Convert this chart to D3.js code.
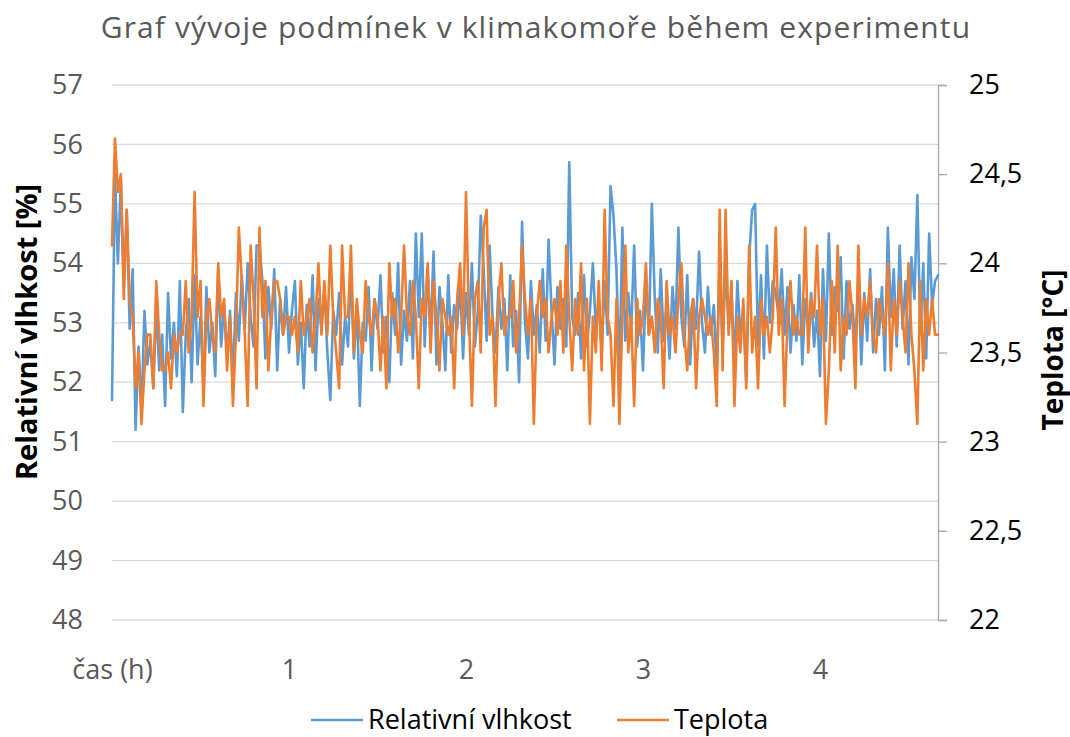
<!DOCTYPE html>
<html>
<head>
<meta charset="utf-8">
<script src="https://cdnjs.cloudflare.com/ajax/libs/d3/7.8.5/d3.min.js"></script>
<style>
  body { margin: 0; background: #fff; }
  svg { display: block; font-family: "Open Sans", sans-serif; }
</style>
</head>
<body>
<div id="chart"></div>
<script>
// popisky osy x (kategorie po minutách, popisek každých 60 bodů)
const xLabels = ["čas (h)", "1", "2", "3", "4"];
const xLabelIdx = [0, 60, 120, 180, 240];

const humTicks = [48, 49, 50, 51, 52, 53, 54, 55, 56, 57];
const tempTicks = [22, 22.5, 23, 23.5, 24, 24.5, 25];

// relativní vlhkost [%]
const vlhkost = [
  51.7, 55.5, 54.0, 55.4, 53.6, 54.9, 52.9, 53.9, 51.2, 52.6, 51.5, 53.2, 52.3, 52.7, 51.9, 53.3, 52.2, 52.8, 51.6, 53.5,
  52.4, 53.0, 52.1, 53.7, 51.5, 52.8, 53.4, 52.0, 53.8, 52.3, 53.1, 51.9, 53.6, 52.5, 53.0, 52.1, 53.9, 52.6, 53.3, 52.4,
  53.2, 52.0, 53.5, 52.7, 53.8, 52.9, 54.0, 53.1, 52.6, 54.3, 54.3, 53.7, 52.4, 53.6, 52.9, 53.9, 52.2, 53.4, 52.8, 53.6,
  52.5, 53.2, 53.7, 52.3, 53.0, 51.9, 53.3, 52.6, 53.8, 52.2, 53.4, 52.9, 53.6, 52.5, 51.7, 53.2, 52.8, 53.5, 52.3, 53.1,
  52.6, 53.9, 52.4, 53.3, 51.6, 53.0, 52.7, 53.6, 52.2, 53.4, 52.9, 53.8, 52.5, 53.1, 52.0, 53.5, 52.8, 54.0, 52.3, 53.2,
  52.7, 53.7, 52.4, 54.5, 53.1, 54.5, 52.6, 53.9, 52.8, 54.2, 52.3, 53.6, 53.0, 52.2, 53.8, 52.5, 53.3, 52.9, 53.7, 52.4,
  53.5, 52.8, 54.0, 52.6, 53.2, 54.8, 53.9, 52.7, 54.3, 53.1, 52.5, 53.6, 52.9, 53.4, 52.2, 53.8, 52.6, 53.2, 52.0, 54.7,
  53.0, 52.4, 53.7, 52.8, 53.3, 52.5, 53.9, 52.7, 54.4, 53.2, 52.3, 53.6, 52.9, 53.4, 52.6, 55.7, 53.1, 52.8, 53.5, 52.4,
  53.8, 52.6, 53.2, 54.0, 52.9, 53.4, 52.5, 53.7, 52.8, 55.3, 54.8, 53.9, 52.1, 54.6, 52.7, 53.5, 52.9, 54.3, 52.6, 53.2,
  52.2, 53.7, 52.8, 55.0, 53.4, 52.5, 53.9, 52.7, 53.3, 52.4, 53.6, 52.9, 54.6, 53.1, 52.6, 53.8, 52.3, 53.4, 52.9, 54.2,
  53.0, 52.5, 53.6, 52.8, 53.3, 52.2, 53.9, 52.6, 54.0, 52.9, 53.5, 52.3, 53.7, 52.8, 53.2, 52.0, 54.1, 54.9, 55.0, 52.6,
  53.8, 52.4, 54.3, 53.0, 53.7, 53.5, 53.1, 53.9, 52.8, 53.6, 52.5, 53.3, 52.7, 53.8, 52.3, 53.4, 52.9, 53.5, 52.6, 53.2,
  52.1, 53.9, 52.7, 54.5, 52.8, 53.6, 53.2, 54.1, 52.4, 53.7, 52.9, 53.3, 52.6, 53.8, 52.3, 53.5, 52.7, 53.9, 52.5, 53.4,
  52.8, 53.6, 52.2, 54.6, 53.1, 53.9, 52.6, 54.3, 52.9, 53.7, 52.3, 54.1, 53.4, 55.15, 52.8, 54.0, 52.4, 54.5, 53.3, 53.7,
  53.8
];

// teplota [°C]
const teplota = [
  24.1, 24.7, 24.4, 24.5, 23.8, 24.3, 23.8, 23.7, 23.3, 23.5, 23.1, 23.4, 23.6, 23.6, 23.3, 23.9, 23.6, 23.4, 23.4, 23.5,
  23.3, 23.6, 23.5, 23.6, 23.6, 23.9, 23.5, 23.7, 24.4, 23.7, 23.9, 23.2, 23.7, 23.8, 23.6, 23.5, 24.0, 23.7, 23.8, 23.4,
  23.7, 23.2, 23.6, 24.2, 23.9, 23.6, 23.2, 24.1, 23.8, 23.3, 24.2, 23.7, 23.9, 23.4, 23.7, 23.9, 23.9, 23.8, 23.6, 23.7,
  23.7, 23.6, 23.7, 23.5, 23.9, 23.6, 23.7, 23.8, 23.5, 23.7, 24.0, 23.6, 23.9, 23.6, 24.1, 23.7, 23.5, 23.3, 24.1, 23.7,
  23.7, 24.1, 23.5, 23.8, 23.6, 23.5, 23.9, 23.7, 23.6, 23.8, 23.7, 23.4, 23.7, 23.3, 24.0, 23.7, 23.8, 23.5, 23.7, 24.1,
  23.7, 23.6, 23.9, 23.7, 23.3, 23.8, 23.7, 24.0, 23.5, 23.9, 23.7, 23.4, 23.8, 23.7, 23.6, 23.7, 23.3, 23.8, 24.0, 23.6,
  24.4, 23.7, 23.2, 23.8, 23.9, 23.5, 24.2, 24.3, 23.6, 23.7, 23.2, 23.8, 24.0, 23.6, 23.7, 23.7, 23.9, 23.5, 23.7, 24.1,
  23.8, 23.6, 23.8, 23.1, 23.7, 23.9, 23.7, 23.8, 23.5, 23.7, 23.8, 23.6, 23.9, 23.5, 24.1, 23.7, 23.4, 23.8, 23.6, 24.0,
  23.4, 23.8, 23.1, 23.7, 23.5, 23.9, 23.4, 24.3, 23.7, 23.6, 23.2, 23.8, 23.1, 23.7, 24.1, 23.5, 23.7, 23.2, 23.8, 23.6,
  23.7, 24.0, 23.6, 23.7, 23.5, 23.8, 23.7, 23.3, 23.9, 23.6, 23.7, 23.5, 23.8, 24.0, 23.6, 23.4, 23.7, 23.8, 23.3, 23.7,
  23.8, 23.7, 23.6, 23.7, 23.5, 23.2, 24.3, 23.4, 24.3, 23.6, 23.9, 23.2, 23.7, 23.5, 23.8, 23.3, 24.1, 23.5, 23.7, 23.3,
  23.8, 23.6, 23.7, 23.5, 23.7, 24.2, 23.6, 23.8, 23.2, 23.7, 23.9, 23.6, 23.7, 23.6, 23.6, 24.2, 23.5, 23.8, 23.7, 24.1,
  23.6, 23.8, 23.1, 23.4, 23.9, 23.5, 24.1, 23.4, 23.7, 23.6, 23.9, 23.7, 23.3, 24.1, 23.6, 23.8, 23.7, 23.9, 23.6, 23.5,
  23.8, 23.7, 23.6, 24.0, 23.4, 23.8, 23.6, 23.9, 23.7, 23.5, 24.0, 23.6, 23.4, 23.1, 23.9, 23.4, 23.8, 23.6, 23.8, 23.6,
  23.6
];

const W = 1070, H = 737;
const margin = { top: 85, right: 132, bottom: 117, left: 112 };
const width = W - margin.left - margin.right;
const height = H - margin.top - margin.bottom;
const tickFont = "27px";

const svg = d3.select("#chart").append("svg")
  .attr("width", W).attr("height", H);

const g = svg.append("g")
  .attr("transform", `translate(${margin.left},${margin.top})`);

// škály
const x = d3.scaleLinear().domain([0, vlhkost.length - 1]).range([0, width]);
const yL = d3.scaleLinear().domain([48, 57]).range([height, 0]);
const yR = d3.scaleLinear().domain([22, 25]).range([height, 0]);

// mřížka
g.append("g")
  .selectAll("line")
  .data(humTicks)
  .enter().append("line")
  .attr("x1", 0).attr("x2", width)
  .attr("y1", d => yL(d)).attr("y2", d => yL(d))
  .attr("stroke", "#d9d9d9").attr("stroke-width", 1.3);

// levá osa
const leftAxis = g.append("g")
  .call(d3.axisLeft(yL).tickValues(humTicks).tickSize(0).tickPadding(29));
leftAxis.select(".domain").remove();
leftAxis.selectAll("text")
  .style("font-size", tickFont).style("fill", "#595959")
  .style("font-family", "'Open Sans', sans-serif");

// pravá osa
const rightAxis = g.append("g")
  .attr("transform", `translate(${width},0)`)
  .call(d3.axisRight(yR).tickValues(tempTicks).tickSize(9).tickPadding(22)
    .tickFormat(d => String(d).replace(".", ",")));
rightAxis.select(".domain").attr("stroke", "#a6a6a6").attr("stroke-width", 1.3);
rightAxis.selectAll("line").attr("stroke", "#a6a6a6").attr("stroke-width", 1.3);
rightAxis.selectAll("text")
  .style("font-size", tickFont).style("fill", "#000")
  .style("font-family", "'Open Sans', sans-serif");

// osa x
const bottomAxis = g.append("g")
  .attr("transform", `translate(0,${height})`)
  .call(d3.axisBottom(x).tickValues(xLabelIdx).tickSize(0).tickPadding(40)
    .tickFormat((d, i) => xLabels[i]));
bottomAxis.select(".domain").remove();
bottomAxis.selectAll("text")
  .style("font-size", tickFont).style("fill", "#595959")
  .style("font-family", "'Open Sans', sans-serif");

// křivky
const lineH = d3.line().x((d, i) => x(i)).y(d => yL(d));
const lineT = d3.line().x((d, i) => x(i)).y(d => yR(d));

g.append("path").datum(vlhkost)
  .attr("d", lineH).attr("fill", "none")
  .attr("stroke", "#5b9bd5").attr("stroke-width", 2.6)
  .attr("stroke-linejoin", "round").attr("stroke-linecap", "round");

g.append("path").datum(teplota)
  .attr("d", lineT).attr("fill", "none")
  .attr("stroke", "#ed7d31").attr("stroke-width", 2.6)
  .attr("stroke-linejoin", "round").attr("stroke-linecap", "round");

// titulek
svg.append("text")
  .attr("x", 536).attr("y", 38)
  .attr("text-anchor", "middle")
  .style("font-size", "30px").style("letter-spacing", "1.1px").style("fill", "#595959")
  .text("Graf vývoje podmínek v klimakomoře během experimentu");

// názvy os
svg.append("text")
  .attr("transform", `translate(37,332) rotate(-90)`)
  .attr("text-anchor", "middle")
  .style("font-size", "29px").style("font-weight", "bold").style("fill", "#000")
  .text("Relativní vlhkost [%]");

svg.append("text")
  .attr("transform", `translate(1063,350) rotate(-90)`)
  .attr("text-anchor", "middle")
  .style("font-size", "28px").style("font-weight", "bold").style("fill", "#000")
  .text("Teplota [°C]");

// legenda
const legend = [
  { name: "Relativní vlhkost", color: "#5b9bd5", x: 311 },
  { name: "Teplota", color: "#ed7d31", x: 617 }
];
const lg = svg.append("g").selectAll("g").data(legend).enter().append("g")
  .attr("transform", d => `translate(${d.x},720)`);
lg.append("line").attr("x1", 0).attr("x2", 52)
  .attr("stroke", d => d.color).attr("stroke-width", 2.6);
lg.append("text").attr("x", 57).attr("y", 9)
  .style("font-size", "27px").style("fill", "#000")
  .text(d => d.name);
</script>
</body>
</html>
